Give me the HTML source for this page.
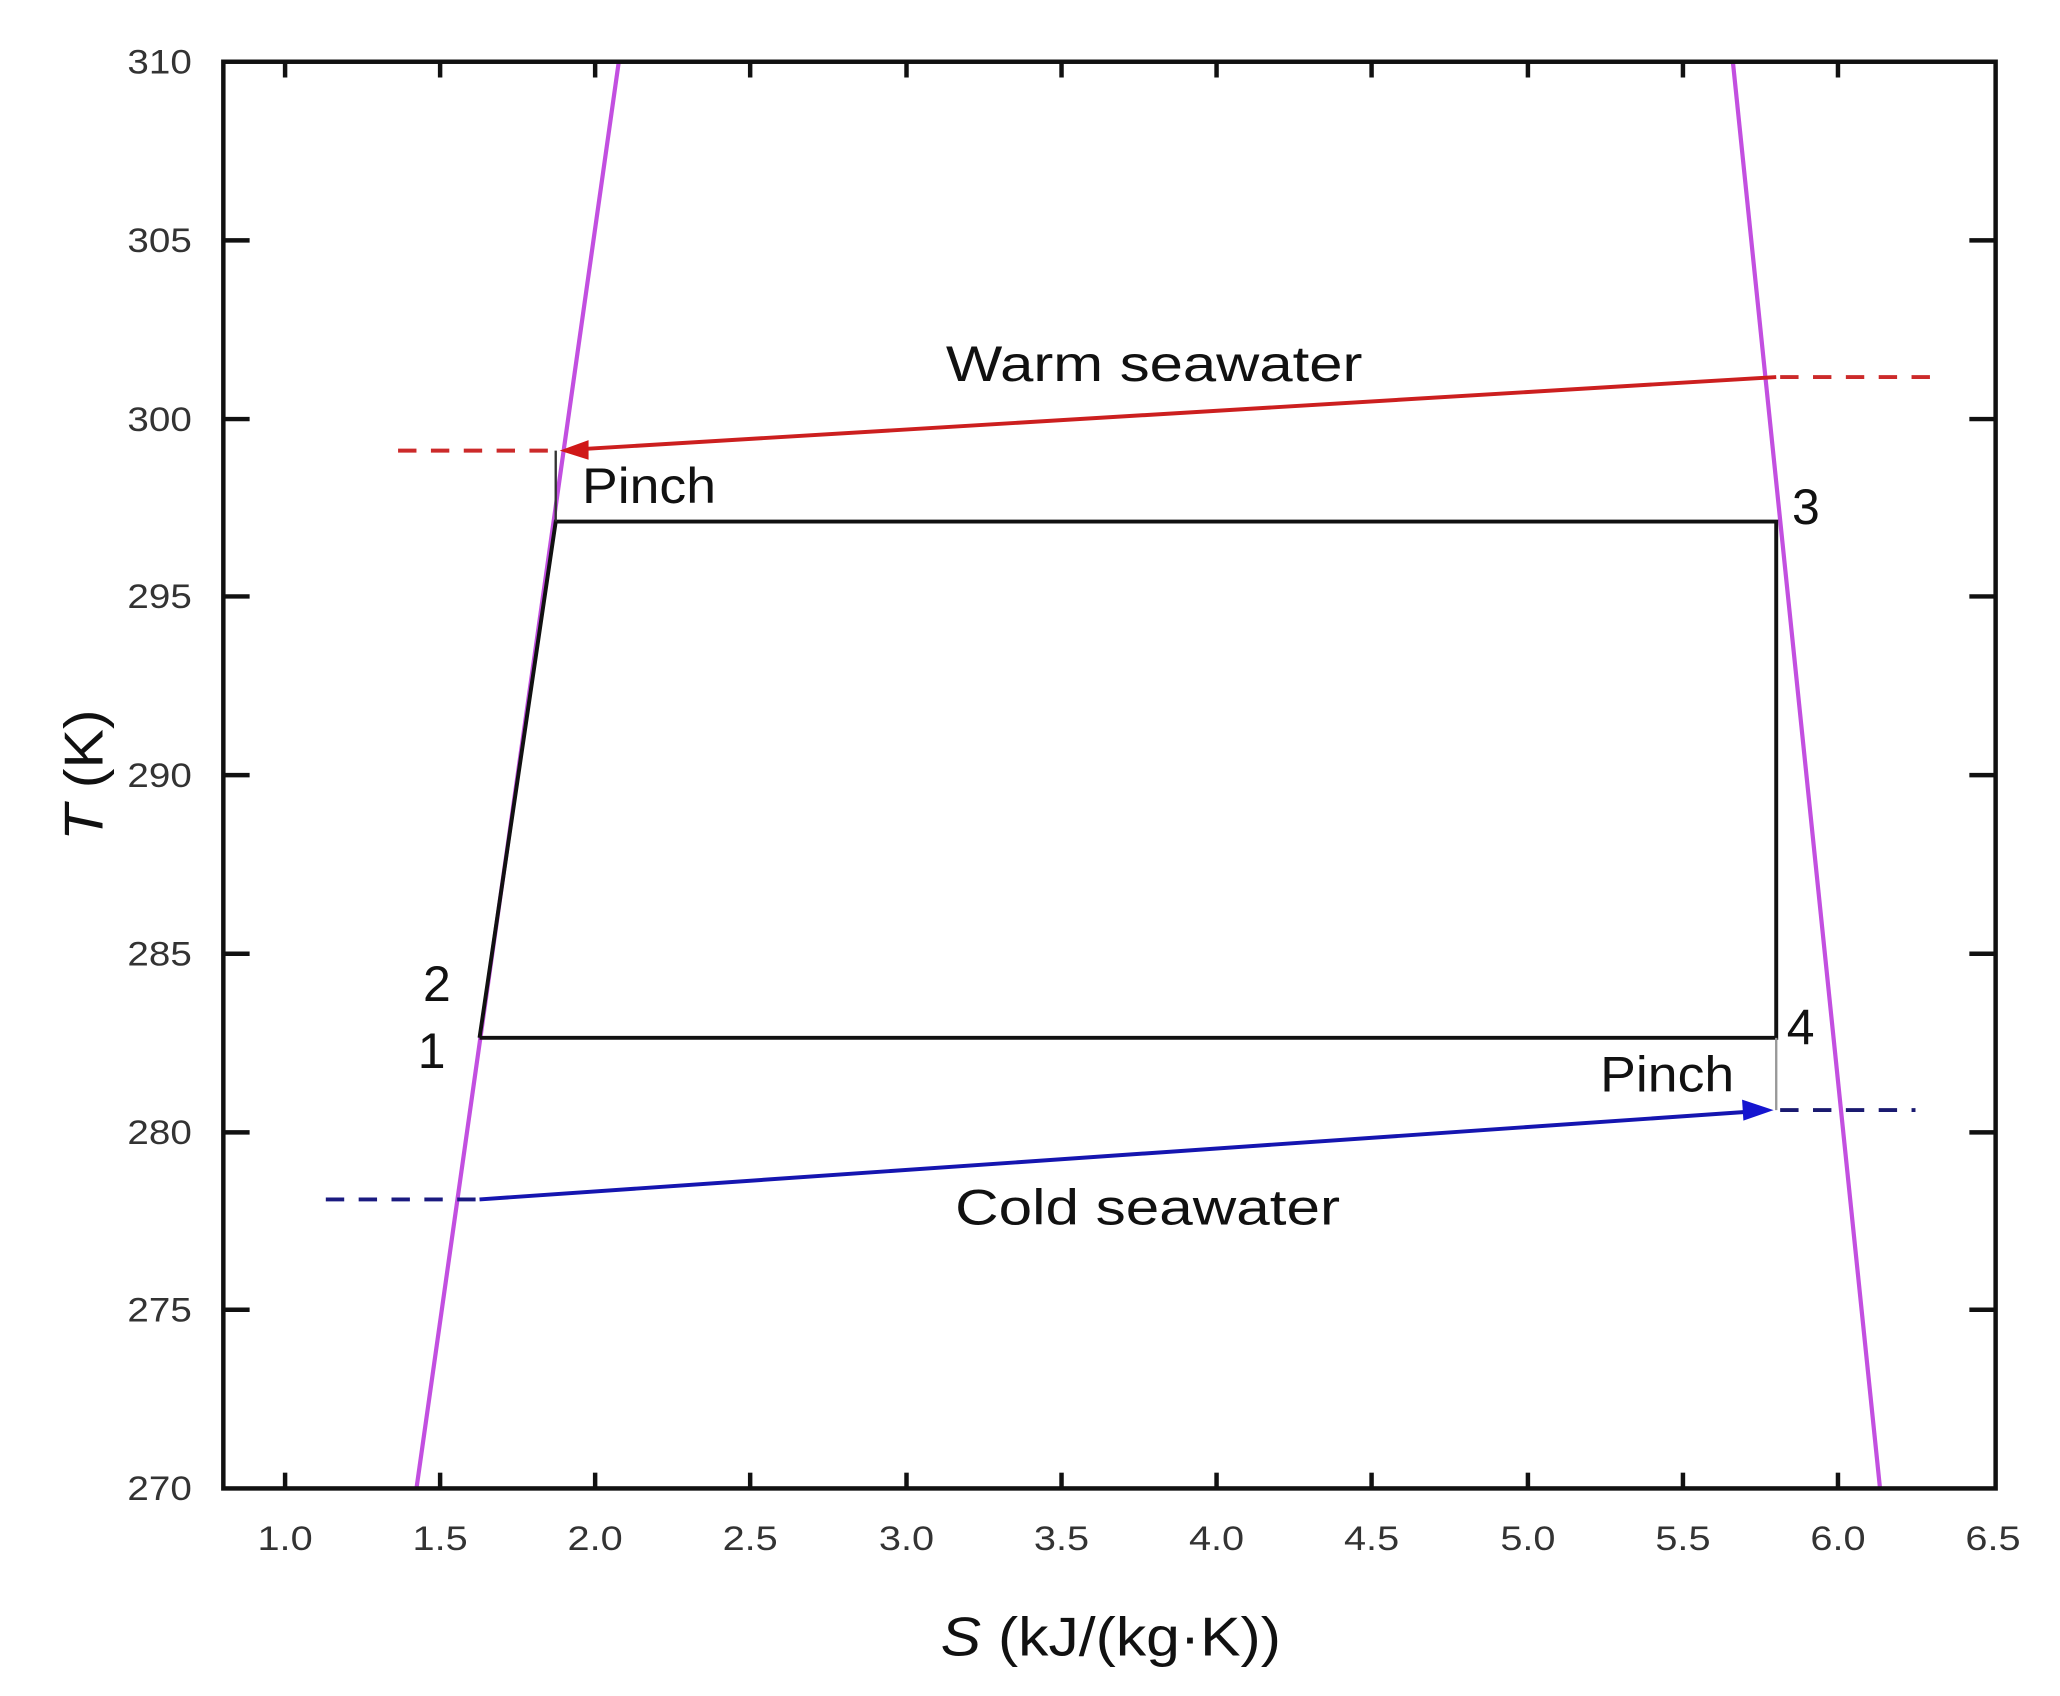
<!DOCTYPE html>
<html><head><meta charset="utf-8"><style>
html,body{margin:0;padding:0;background:#fff;}
svg{display:block;}
text{font-family:"Liberation Sans",Arial,sans-serif;}
</style></head><body>
<svg width="2060" height="1696" viewBox="0 0 1568 1291" preserveAspectRatio="none" xmlns="http://www.w3.org/2000/svg">
<rect width="1568" height="1291" fill="#fff"/>
<line x1="317" y1="1133" x2="471" y2="47" stroke="#c24fe0" stroke-width="3.2"/>
<line x1="1319" y1="47" x2="1431" y2="1133" stroke="#c24fe0" stroke-width="3.2"/>
<polyline points="365,790 423,397 1352,397 1352,790 365,790" fill="none" stroke="#111" stroke-width="3"/>
<line x1="423" y1="397" x2="423" y2="343" stroke="#333" stroke-width="1.8"/>
<line x1="1352" y1="790" x2="1352" y2="845" stroke="#999" stroke-width="1.8"/>
<line x1="1352" y1="287" x2="440" y2="342" stroke="#cc1f1f" stroke-width="3"/>
<polygon points="426,343 448,335 448,350" fill="#d01818"/>
<line x1="1355" y1="287" x2="1478" y2="287" stroke="#cc2a2a" stroke-width="3" stroke-dasharray="14,11"/>
<line x1="303" y1="343" x2="424" y2="343" stroke="#cc2a2a" stroke-width="3" stroke-dasharray="14,11"/>
<line x1="365" y1="913" x2="1335" y2="846" stroke="#1515b0" stroke-width="3"/>
<polygon points="1350,845 1326,837 1327,853" fill="#1515d0"/>
<line x1="1355" y1="845" x2="1458" y2="845" stroke="#1a1a70" stroke-width="3" stroke-dasharray="14,11"/>
<line x1="248" y1="913" x2="365" y2="913" stroke="#1a1a80" stroke-width="3" stroke-dasharray="14,11"/>
<rect x="170" y="47" width="1349" height="1086" fill="none" stroke="#111" stroke-width="3.4"/>
<g stroke="#111" stroke-width="3.4">
<line x1="217" y1="1133" x2="217" y2="1121"/><line x1="217" y1="47" x2="217" y2="59"/>
<line x1="335" y1="1133" x2="335" y2="1121"/><line x1="335" y1="47" x2="335" y2="59"/>
<line x1="453" y1="1133" x2="453" y2="1121"/><line x1="453" y1="47" x2="453" y2="59"/>
<line x1="571" y1="1133" x2="571" y2="1121"/><line x1="571" y1="47" x2="571" y2="59"/>
<line x1="690" y1="1133" x2="690" y2="1121"/><line x1="690" y1="47" x2="690" y2="59"/>
<line x1="808" y1="1133" x2="808" y2="1121"/><line x1="808" y1="47" x2="808" y2="59"/>
<line x1="926" y1="1133" x2="926" y2="1121"/><line x1="926" y1="47" x2="926" y2="59"/>
<line x1="1044" y1="1133" x2="1044" y2="1121"/><line x1="1044" y1="47" x2="1044" y2="59"/>
<line x1="1163" y1="1133" x2="1163" y2="1121"/><line x1="1163" y1="47" x2="1163" y2="59"/>
<line x1="1281" y1="1133" x2="1281" y2="1121"/><line x1="1281" y1="47" x2="1281" y2="59"/>
<line x1="1399" y1="1133" x2="1399" y2="1121"/><line x1="1399" y1="47" x2="1399" y2="59"/>
<line x1="170" y1="183" x2="190" y2="183"/><line x1="1519" y1="183" x2="1499" y2="183"/>
<line x1="170" y1="319" x2="190" y2="319"/><line x1="1519" y1="319" x2="1499" y2="319"/>
<line x1="170" y1="454" x2="190" y2="454"/><line x1="1519" y1="454" x2="1499" y2="454"/>
<line x1="170" y1="590" x2="190" y2="590"/><line x1="1519" y1="590" x2="1499" y2="590"/>
<line x1="170" y1="726" x2="190" y2="726"/><line x1="1519" y1="726" x2="1499" y2="726"/>
<line x1="170" y1="862" x2="190" y2="862"/><line x1="1519" y1="862" x2="1499" y2="862"/>
<line x1="170" y1="997" x2="190" y2="997"/><line x1="1519" y1="997" x2="1499" y2="997"/>
</g>
<g font-size="26" fill="#333" lengthAdjust="spacingAndGlyphs">
<text x="97" y="56" textLength="49" lengthAdjust="spacingAndGlyphs">310</text>
<text x="97" y="192" textLength="49" lengthAdjust="spacingAndGlyphs">305</text>
<text x="97" y="328" textLength="49" lengthAdjust="spacingAndGlyphs">300</text>
<text x="97" y="463" textLength="49" lengthAdjust="spacingAndGlyphs">295</text>
<text x="97" y="599" textLength="49" lengthAdjust="spacingAndGlyphs">290</text>
<text x="97" y="735" textLength="49" lengthAdjust="spacingAndGlyphs">285</text>
<text x="97" y="871" textLength="49" lengthAdjust="spacingAndGlyphs">280</text>
<text x="97" y="1006" textLength="49" lengthAdjust="spacingAndGlyphs">275</text>
<text x="97" y="1142" textLength="49" lengthAdjust="spacingAndGlyphs">270</text>
</g>
<g font-size="26" fill="#333">
<text x="196" y="1180" textLength="42" lengthAdjust="spacingAndGlyphs">1.0</text>
<text x="314" y="1180" textLength="42" lengthAdjust="spacingAndGlyphs">1.5</text>
<text x="432" y="1180" textLength="42" lengthAdjust="spacingAndGlyphs">2.0</text>
<text x="550" y="1180" textLength="42" lengthAdjust="spacingAndGlyphs">2.5</text>
<text x="669" y="1180" textLength="42" lengthAdjust="spacingAndGlyphs">3.0</text>
<text x="787" y="1180" textLength="42" lengthAdjust="spacingAndGlyphs">3.5</text>
<text x="905" y="1180" textLength="42" lengthAdjust="spacingAndGlyphs">4.0</text>
<text x="1023" y="1180" textLength="42" lengthAdjust="spacingAndGlyphs">4.5</text>
<text x="1142" y="1180" textLength="42" lengthAdjust="spacingAndGlyphs">5.0</text>
<text x="1260" y="1180" textLength="42" lengthAdjust="spacingAndGlyphs">5.5</text>
<text x="1378" y="1180" textLength="42" lengthAdjust="spacingAndGlyphs">6.0</text>
<text x="1496" y="1180" textLength="42" lengthAdjust="spacingAndGlyphs">6.5</text>
</g>
<text x="716" y="1260" font-size="42" fill="#111" textLength="259" lengthAdjust="spacingAndGlyphs"><tspan font-style="italic">S</tspan> (kJ/(kg·K))</text>
<text transform="translate(78,640) rotate(-90)" font-size="42" fill="#111" textLength="100" lengthAdjust="spacingAndGlyphs"><tspan font-style="italic">T</tspan> (K)</text>
<g font-size="38" fill="#111">
<text x="720" y="290" textLength="317" lengthAdjust="spacingAndGlyphs">Warm seawater</text>
<text x="727" y="932" textLength="293" lengthAdjust="spacingAndGlyphs">Cold seawater</text>
<text x="443" y="383" textLength="102" lengthAdjust="spacingAndGlyphs">Pinch</text>
<text x="1218" y="831" textLength="102" lengthAdjust="spacingAndGlyphs">Pinch</text>
<text x="1364" y="399">3</text>
<text x="322" y="762">2</text>
<text x="318" y="813">1</text>
<text x="1360" y="795">4</text>
</g>
</svg>
</body></html>
